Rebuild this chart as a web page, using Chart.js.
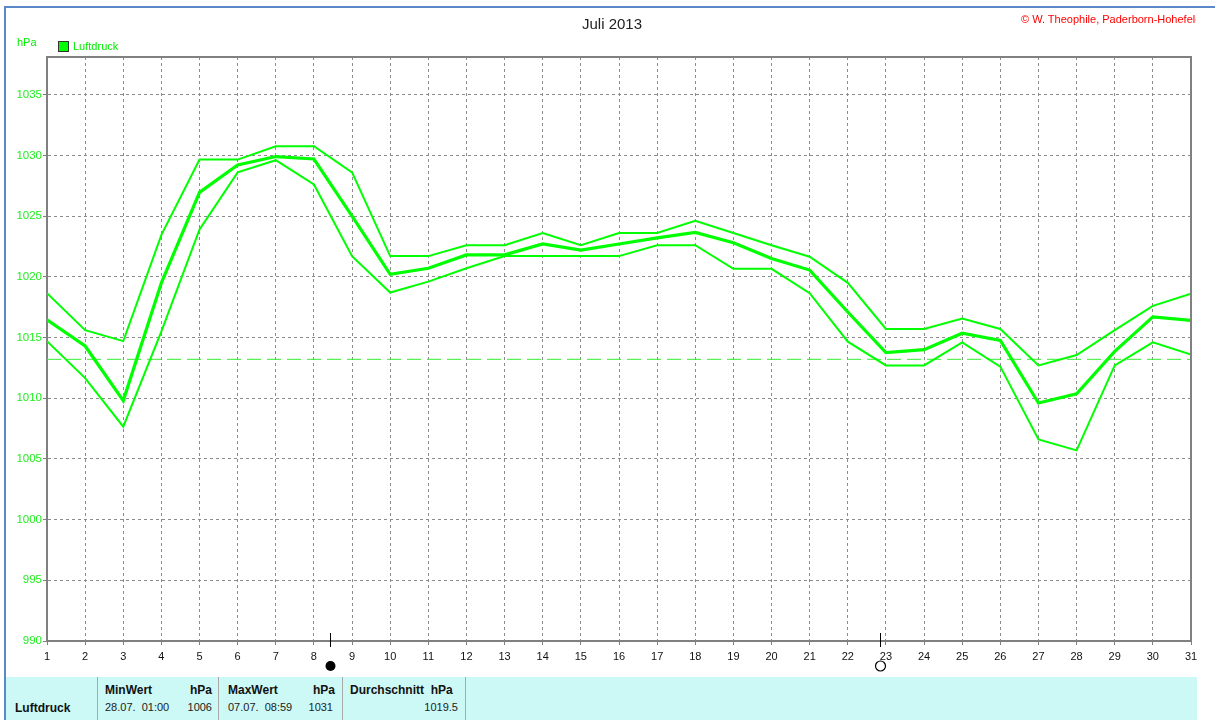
<!DOCTYPE html>
<html>
<head>
<meta charset="utf-8">
<title>Luftdruck Juli 2013</title>
<script src="https://cdn.jsdelivr.net/npm/chart.js@4.4.1/dist/chart.umd.min.js"></script>
<style>
  html, body { margin: 0; padding: 0; background: #fff; }
  body { width: 1215px; height: 720px; position: relative; overflow: hidden;
         font-family: "Liberation Sans", Arial, sans-serif; font-size: 11px; }
  #chart { position: absolute; left: 0; top: 0; }
  .abs { position: absolute; white-space: nowrap; line-height: 1; }
  #frameTop { position: absolute; left: 4px; top: 6px; width: 1211px; height: 2px; background: #5a88c8; }
  #frameLeft { position: absolute; left: 4px; top: 6px; width: 2px; height: 714px; background: #5a88c8; }
  #title { left: 512px; top: 16px; width: 200px; text-align: center; font-size: 15px; color: #222; }
  #copy { left: 1021px; top: 14px; width: 175px; overflow: hidden; color: #ff0000; }
  #unit { left: 17px; top: 37px; color: #00ee00; }
  #legBox { position: absolute; left: 58px; top: 41px; width: 9px; height: 9px; background: #00ff00; border: 1px solid #333; }
  #legText { left: 73px; top: 41px; color: #00ee00; }
  #table { position: absolute; left: 6px; top: 677px; width: 1191px; height: 43px; background: #ccf8f6; }
  .sep { position: absolute; top: 677px; width: 1px; height: 43px; background: #a8a8a8; }
  .b { font-weight: bold; font-size: 12px; color: #111; }
  .n { color: #222; }
</style>
</head>
<body>
<canvas id="chart" width="1215" height="720"></canvas>
<div id="frameTop"></div>
<div id="frameLeft"></div>
<div class="abs" id="title">Juli 2013</div>
<div class="abs" id="copy">© W. Theophile, Paderborn-Hohefeld</div>
<div class="abs" id="unit">hPa</div>
<div id="legBox"></div>
<div class="abs" id="legText">Luftdruck</div>

<div id="table"></div>
<div class="sep" style="left:97px"></div>
<div class="sep" style="left:218px"></div>
<div class="sep" style="left:342px"></div>
<div class="sep" style="left:465px"></div>
<div class="abs b" style="left:15px; top:702px">Luftdruck</div>
<div class="abs b" style="left:105px; top:684px">MinWert</div>
<div class="abs b" style="left:172px; top:684px; width:40px; text-align:right">hPa</div>
<div class="abs n" style="left:105px; top:702px">28.07.&nbsp; 01:00</div>
<div class="abs n" style="left:172px; top:702px; width:40px; text-align:right">1006</div>
<div class="abs b" style="left:228px; top:684px">MaxWert</div>
<div class="abs b" style="left:295px; top:684px; width:40px; text-align:right">hPa</div>
<div class="abs n" style="left:228px; top:702px">07.07.&nbsp; 08:59</div>
<div class="abs n" style="left:293px; top:702px; width:40px; text-align:right">1031</div>
<div class="abs b" style="left:350px; top:684px">Durchschnitt&nbsp; hPa</div>
<div class="abs n" style="left:398px; top:702px; width:60px; text-align:right">1019.5</div>

<script>
  // Juli 2013, Tageswerte Luftdruck (hPa)
  var days = [1, 2, 3, 4, 5, 6, 7, 8, 9, 10, 11, 12, 13, 14, 15, 16,
              17, 18, 19, 20, 21, 22, 23, 24, 25, 26, 27, 28, 29, 30, 31];
  var maxVals = [1018.65, 1015.6, 1014.7, 1023.45, 1029.65, 1029.65, 1030.75, 1030.75,
                 1028.6, 1021.7, 1021.7, 1022.6, 1022.6, 1023.6, 1022.6, 1023.6,
                 1023.6, 1024.6, 1023.6, 1022.6, 1021.65, 1019.5, 1015.7, 1015.7,
                 1016.55, 1015.7, 1012.7, 1013.55, 1015.6, 1017.6, 1018.6];
  var meanVals = [1016.45, 1014.3, 1009.8, 1019.5, 1026.95, 1029.2, 1029.9, 1029.7,
                  1025.0, 1020.2, 1020.7, 1021.8, 1021.8, 1022.7, 1022.2, 1022.7,
                  1023.2, 1023.65, 1022.8, 1021.5, 1020.55, 1017.1, 1013.75, 1014.0,
                  1015.35, 1014.75, 1009.6, 1010.35, 1013.85, 1016.7, 1016.4];
  var minVals = [1014.7, 1011.65, 1007.65, 1015.5, 1023.9, 1028.6, 1029.6, 1027.6,
                 1021.7, 1018.7, 1019.6, 1020.7, 1021.7, 1021.7, 1021.7, 1021.7,
                 1022.6, 1022.6, 1020.65, 1020.65, 1018.65, 1014.65, 1012.7, 1012.7,
                 1014.6, 1012.6, 1006.6, 1005.7, 1012.7, 1014.6, 1013.6];
  var longTermMean = 1013.2;
  var yTicks = [990, 995, 1000, 1005, 1010, 1015, 1020, 1025, 1030, 1035];
  // Mondphasen: Neumond / Vollmond (Tag im Monat)
  var moonDays = [8.42, 22.85];
  var moonKinds = ["new", "full"];

  var green = "#00ff00";

  function toPoints(vals) {
    return days.map(function (d, i) { return { x: d, y: vals[i] }; });
  }

  var framePlugin = {
    id: "frame",
    afterDatasetsDraw: function (chart) {
      var a = chart.chartArea;
      var ctx = chart.ctx;
      ctx.save();
      ctx.strokeStyle = "#808080";
      ctx.lineWidth = 2;
      ctx.beginPath();
      ctx.moveTo(a.left, a.top);
      ctx.lineTo(a.right, a.top);
      ctx.lineTo(a.right, a.bottom);
      ctx.stroke();
      ctx.restore();
    }
  };

  var moonPlugin = {
    id: "moon",
    afterDraw: function (chart) {
      var ctx = chart.ctx;
      var xs = chart.scales.x;
      var bottom = chart.chartArea.bottom;
      ctx.save();
      moonDays.forEach(function (d, i) {
        var px = Math.round(xs.getPixelForValue(d)) + 0.5;
        ctx.strokeStyle = "#000";
        ctx.lineWidth = 1;
        ctx.beginPath();
        ctx.moveTo(px, bottom - 8);
        ctx.lineTo(px, bottom + 6);
        ctx.stroke();
        ctx.beginPath();
        ctx.arc(px, bottom + 25, 5, 0, Math.PI * 2);
        if (moonKinds[i] === "new") {
          ctx.fillStyle = "#000";
          ctx.fill();
        } else {
          ctx.fillStyle = "#fff";
          ctx.fill();
          ctx.lineWidth = 1.2;
          ctx.stroke();
        }
      });
      ctx.restore();
    }
  };

  new Chart(document.getElementById("chart"), {
    type: "line",
    data: {
      datasets: [
        {
          label: "Max",
          data: toPoints(maxVals),
          borderColor: green,
          borderWidth: 2,
          pointRadius: 0,
          tension: 0,
          fill: false
        },
        {
          label: "Luftdruck",
          data: toPoints(meanVals),
          borderColor: green,
          borderWidth: 3.2,
          pointRadius: 0,
          tension: 0,
          fill: false
        },
        {
          label: "Min",
          data: toPoints(minVals),
          borderColor: green,
          borderWidth: 2,
          pointRadius: 0,
          tension: 0,
          fill: false
        },
        {
          label: "Mittel",
          data: [{ x: days[0], y: longTermMean }, { x: days[days.length - 1], y: longTermMean }],
          borderColor: "#33ee33",
          borderWidth: 1,
          borderDash: [14, 6],
          pointRadius: 0,
          fill: false
        }
      ]
    },
    options: {
      responsive: false,
      animation: false,
      devicePixelRatio: 1,
      layout: { padding: { left: 0, right: 24, top: 57, bottom: 49 } },
      plugins: {
        legend: { display: false },
        tooltip: { enabled: false },
        title: { display: false }
      },
      scales: {
        x: {
          type: "linear",
          min: 1,
          max: 31,
          ticks: {
            stepSize: 1,
            color: "#111",
            padding: 5,
            font: { family: "Liberation Sans", size: 11 },
            callback: function (v) { return String(v); }
          },
          grid: { color: "#8c8c8c", lineWidth: 1, tickLength: 4, tickColor: "#808080", tickBorderDash: [] },
          border: { display: true, color: "#808080", width: 2, dash: [3, 3] },
          afterFit: function (scale) { scale.height = 30; }
        },
        y: {
          min: 990,
          max: 1038.1,
          afterBuildTicks: function (scale) {
            scale.ticks = yTicks.map(function (v) { return { value: v }; });
          },
          ticks: {
            color: "#22ee22",
            padding: 1,
            font: { family: "Liberation Sans", size: 11.5 },
            callback: function (v) { return String(v); }
          },
          grid: { color: "#8c8c8c", lineWidth: 1, tickLength: 4, tickColor: "#808080", tickBorderDash: [] },
          border: { display: true, color: "#808080", width: 2, dash: [3, 3] },
          afterFit: function (scale) { scale.width = 47; }
        }
      }
    },
    plugins: [framePlugin, moonPlugin]
  });
</script>
</body>
</html>
